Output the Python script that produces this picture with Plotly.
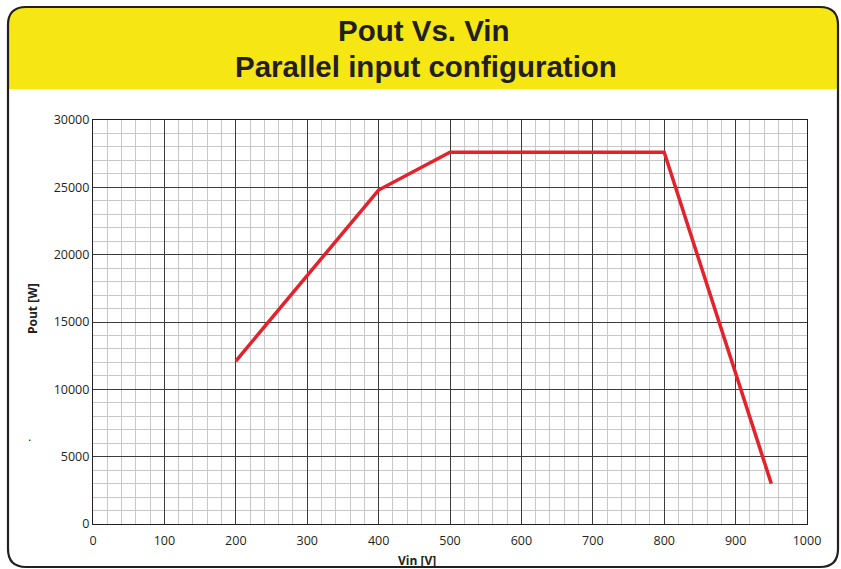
import plotly.graph_objects as go

# Output power versus input voltage, parallel input configuration
vin_v = [200, 400, 500, 800, 950]
pout_w = [12100, 24800, 27600, 27600, 3000]

x_ticks = [0, 100, 200, 300, 400, 500, 600, 700, 800, 900, 1000]
y_ticks = [0, 5000, 10000, 15000, 20000, 25000, 30000]

title_line1 = "Pout Vs. Vin"
title_line2 = "Parallel input configuration"
x_title = "Vin [V]"
y_title = "Pout [W]"

W, H = 841, 569
L, R, T, B = 93, 807, 120, 524  # plot area in pixels


def px(x):
    return (x - L) / (R - L)


def py(y):
    return (B - y) / (B - T)


def rounded_path(x0, y0, x1, y1, r, top=True, bottom=True):
    pts = []
    if top:
        pts.append(f"M {px(x0)},{py(y0 + r)}")
        pts.append(f"Q {px(x0)},{py(y0)} {px(x0 + r)},{py(y0)}")
        pts.append(f"L {px(x1 - r)},{py(y0)}")
        pts.append(f"Q {px(x1)},{py(y0)} {px(x1)},{py(y0 + r)}")
    else:
        pts.append(f"M {px(x0)},{py(y0)}")
        pts.append(f"L {px(x1)},{py(y0)}")
    if bottom:
        pts.append(f"L {px(x1)},{py(y1 - r)}")
        pts.append(f"Q {px(x1)},{py(y1)} {px(x1 - r)},{py(y1)}")
        pts.append(f"L {px(x0 + r)},{py(y1)}")
        pts.append(f"Q {px(x0)},{py(y1)} {px(x0)},{py(y1 - r)}")
    else:
        pts.append(f"L {px(x1)},{py(y1)}")
        pts.append(f"L {px(x0)},{py(y1)}")
    pts.append("Z")
    return " ".join(pts)


fig = go.Figure()
fig.add_trace(go.Scatter(
    x=vin_v, y=pout_w, mode="lines",
    line=dict(color="#E3222B", width=3.5),
    showlegend=False, hoverinfo="skip",
))

tick_font = dict(family="Open Sans, DejaVu Sans, sans-serif", size=12.5, color="#231f20")
axis_common = dict(
    showline=True, linecolor="#231f20", linewidth=1.2, mirror=True,
    gridcolor="#3c3c3c", gridwidth=1, zeroline=False,
    ticks="", tickfont=tick_font, fixedrange=True,
)

fig.update_xaxes(
    range=[0, 1000], tickvals=x_ticks, ticktext=[str(v) for v in x_ticks],
    minor=dict(dtick=20, tick0=0, showgrid=True, gridcolor="#c8c8c8", gridwidth=1),
    ticklabelstandoff=5,
    **axis_common,
)
fig.update_yaxes(
    range=[0, 30000], tickvals=y_ticks, ticktext=[str(v) for v in y_ticks],
    minor=dict(dtick=1000, tick0=0, showgrid=True, gridcolor="#c8c8c8", gridwidth=1),
    **axis_common,
)

shapes = [
    # yellow header band with rounded top corners
    dict(type="path", xref="paper", yref="paper", layer="below",
         path=rounded_path(8, 7, 838, 89, 18, top=True, bottom=False),
         fillcolor="#F5E614", line=dict(width=0)),
    # outer frame
    dict(type="path", xref="paper", yref="paper", layer="above",
         path=rounded_path(8, 7, 838, 567, 18),
         fillcolor="rgba(0,0,0,0)", line=dict(color="#231f20", width=2.2)),
]

title_font = dict(family="Liberation Sans, Arial, sans-serif", size=29.5, color="#231f20")
label_font = dict(family="Open Sans, Liberation Sans, sans-serif", size=12, color="#231f20")

annotations = [
    dict(text=f"<b>{title_line1}</b>", x=px(424), y=py(30), xref="paper", yref="paper",
         showarrow=False, xanchor="center", yanchor="middle", font=title_font),
    dict(text=f"<b>{title_line2}</b>", x=px(426), y=py(66), xref="paper", yref="paper",
         showarrow=False, xanchor="center", yanchor="middle", font=title_font),
    dict(text=f"<b>{x_title}</b>", x=px(417), y=py(560), xref="paper", yref="paper",
         showarrow=False, xanchor="center", yanchor="middle", font=label_font),
    dict(text=f"<b>{y_title}</b>", x=px(32), y=py(309), xref="paper", yref="paper",
         showarrow=False, xanchor="center", yanchor="middle", textangle=-90, font=label_font),
    dict(text=".", x=px(29), y=py(437), xref="paper", yref="paper",
         showarrow=False, xanchor="center", yanchor="middle",
         font=dict(family="Liberation Sans, Arial, sans-serif", size=12, color="#000000")),
]

fig.update_layout(
    width=W, height=H,
    margin=dict(l=L, r=W - R, t=T, b=H - B, pad=0),
    paper_bgcolor="white", plot_bgcolor="white",
    shapes=shapes, annotations=annotations,
    showlegend=False,
)

fig.write_html("out.html", config={"displayModeBar": False})
